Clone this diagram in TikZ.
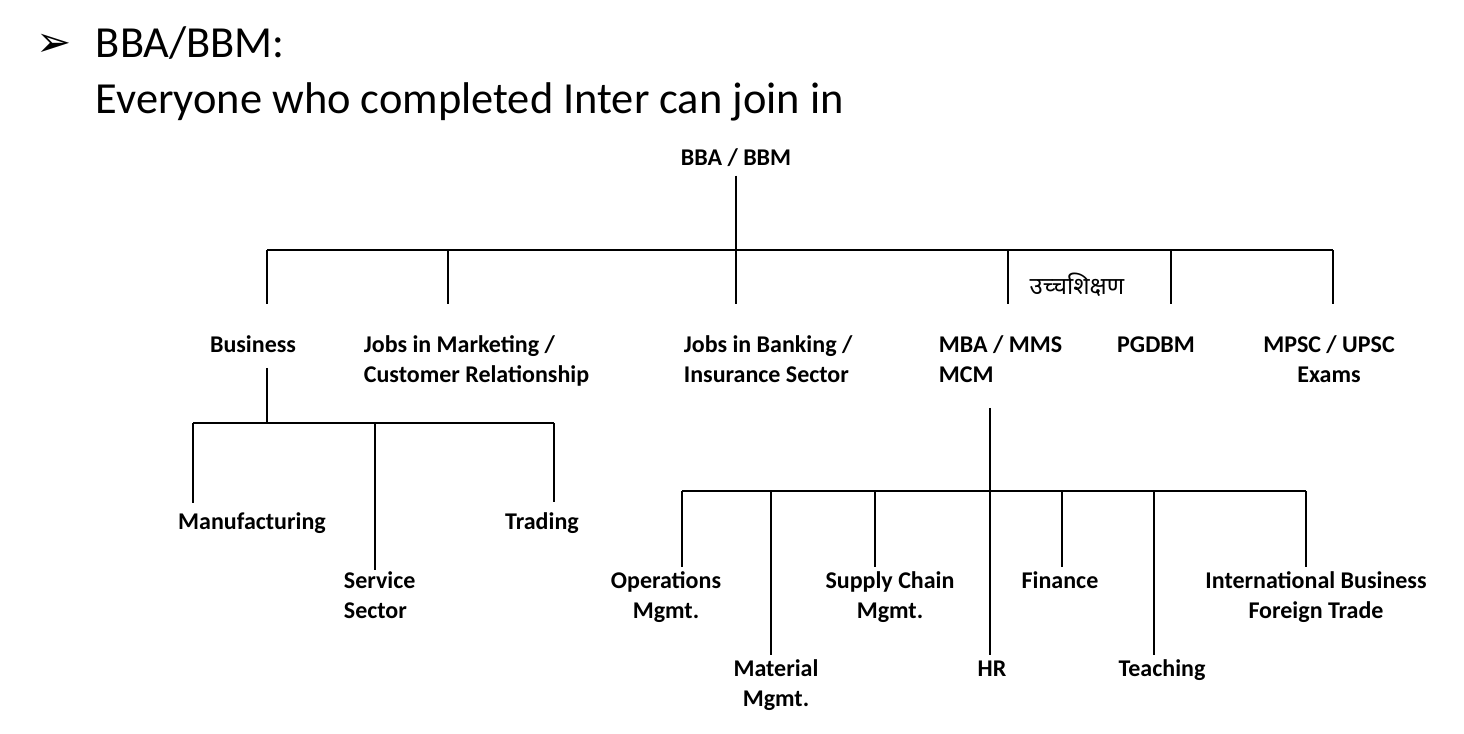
\documentclass[tikz,border=0pt]{standalone}
\usepackage{fontspec}
\setmainfont{Carlito}
\newfontfamily\symfont{DejaVu Sans}
\newfontfamily\devfont[Script=Devanagari]{Noto Sans}
\newcommand{\career}[1]{\textbf{\vphantom{Jk}#1}}

\begin{document}
\begin{tikzpicture}[x=0.5pt,y=-0.5pt,line width=0.9pt]
    \tikzstyle{every node}=[inner sep=0pt]
    \tikzstyle{box}=[anchor=north,align=center,font=\fontsize{12}{15}\selectfont]
    \tikzstyle{lbox}=[box,anchor=north west,align=left]
    \tikzstyle{head}=[anchor=base west,font=\fontsize{22.2}{26}\selectfont]
    \useasboundingbox (0,0) rectangle (1464,734);
    \node[anchor=base west,font=\symfont\fontsize{21}{24}\selectfont] (bullet) at (36,56) {➢};
    \node[head] (title) at (95,57) {BBA/BBM:};
    \node[head] (intro) at (95,113) {Everyone who completed Inter can join in};
    \node[box] (bba) at (736,148) {\career{BBA / BBM}};
    \node[font=\devfont\fontsize{12}{14}\selectfont] (higher) at (1077,285) {उच्चशिक्षण};
    \node[box] (business) at (253,335) {\career{Business}};
    \node[lbox] (marketing) at (363,335) {\career{Jobs in Marketing /}\\\career{Customer Relationship}};
    \node[lbox] (banking) at (683,335) {\career{Jobs in Banking /}\\\career{Insurance Sector}};
    \node[lbox] (mba) at (938,335) {\career{MBA / MMS}\\\career{MCM}};
    \node[box] (pgdbm) at (1156,335) {\career{PGDBM}};
    \node[box] (mpsc) at (1329,335) {\career{MPSC / UPSC}\\\career{Exams}};
    \node[box] (manufacturing) at (252,512) {\career{Manufacturing}};
    \node[lbox] (service) at (343,571) {\career{Service}\\\career{Sector}};
    \node[box] (trading) at (542,512) {\career{Trading}};
    \node[box] (operations) at (666,571) {\career{Operations}\\\career{Mgmt.}};
    \node[box] (material) at (776,659) {\career{Material}\\\career{Mgmt.}};
    \node[box] (supply) at (890,571) {\career{Supply Chain}\\\career{Mgmt.}};
    \node[box] (hr) at (992,659) {\career{HR}};
    \node[box] (finance) at (1060,571) {\career{Finance}};
    \node[box] (teaching) at (1162,659) {\career{Teaching}};
    \node[box] (trade) at (1316,571) {\career{International Business}\\\career{Foreign Trade}};
    \foreach \n/\x in {business/267,marketing/448,banking/736,mba/1008,pgdbm/1171,mpsc/1333}
      \draw[shorten >=15.5pt] (\x,250) coordinate (j-\n) -- (j-\n |- \n.north);
    \draw (j-business) -- (j-mpsc);
    \draw[shorten <=4pt] (bba) -- (j-banking);
    \foreach \n/\x/\s in {manufacturing/193/4.5pt,service/375/0.5pt,trading/554/5pt}
      \draw[shorten >=\s] (\x,423) coordinate (k-\n) -- (k-\n |- \n.north);
    \draw (k-manufacturing) -- (k-trading);
    \draw[shorten <=7pt] (j-business |- business.south) -- (j-business |- k-service);
    \foreach \n/\x in {operations/682,material/771,supply/875,hr/990,finance/1062,teaching/1154,trade/1306}
      \draw[shorten >=2pt] (\x,491) coordinate (m-\n) -- (m-\n |- \n.north);
    \draw (m-operations) -- (m-trade);
    \draw[shorten <=12pt] (m-hr |- mba.south) -- (m-hr);
\end{tikzpicture}
\end{document}
